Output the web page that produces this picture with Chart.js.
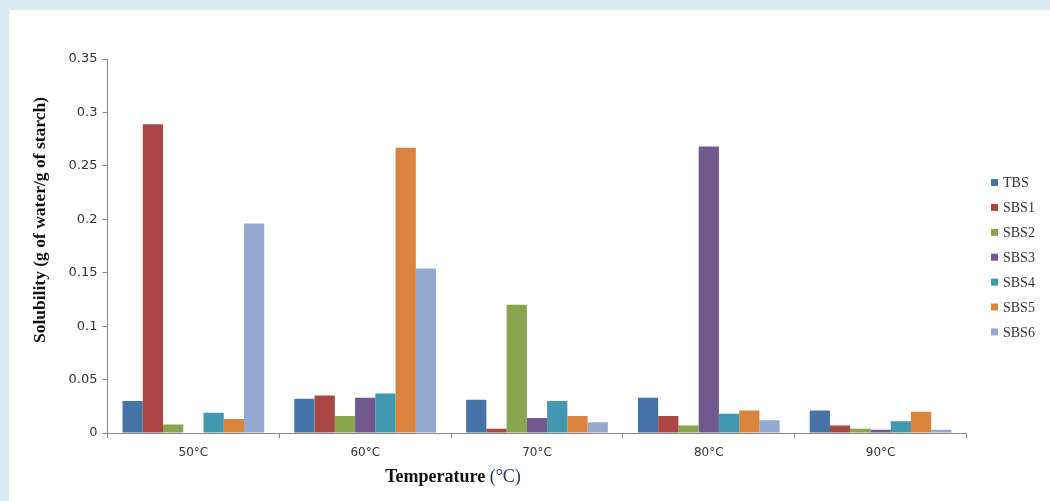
<!DOCTYPE html>
<html>
<head>
<meta charset="utf-8">
<script src="https://cdn.jsdelivr.net/npm/chart.js@4.4.1/dist/chart.umd.min.js"></script>
<style>
  html, body { margin: 0; padding: 0; background: #d9ebf2; }
  #wrap { position: absolute; left: 9px; top: 10px; width: 1041px; height: 491px; background: #fff; }
</style>
</head>
<body>
<div id="wrap"><canvas id="solChart" width="1041" height="491"></canvas></div>
<script>
// chart data
const temps = ["50°C", "60°C", "70°C", "80°C", "90°C"];
const yTicks = ["0", "0.05", "0.1", "0.15", "0.2", "0.25", "0.3", "0.35"];

const tbs  = [0.030, 0.032, 0.031, 0.033, 0.021];
const sbs1 = [0.289, 0.035, 0.004, 0.016, 0.007];
const sbs2 = [0.008, 0.016, 0.120, 0.007, 0.004];
const sbs3 = [0,     0.033, 0.014, 0.268, 0.003];
const sbs4 = [0.019, 0.037, 0.030, 0.018, 0.011];
const sbs5 = [0.013, 0.267, 0.016, 0.021, 0.020];
const sbs6 = [0.196, 0.154, 0.010, 0.012, 0.003];

const seriesNames = ["TBS", "SBS1", "SBS2", "SBS3", "SBS4", "SBS5", "SBS6"];
const seriesData = [tbs, sbs1, sbs2, sbs3, sbs4, sbs5, sbs6];
const colors = ["#4572a7", "#aa4643", "#89a54e", "#71588f", "#4198af", "#db843d", "#93a9cf"];

const axisGray = "#868686";

// titles + legend drawn by hand so they sit where the original puts them
const extras = {
    id: "extras",
    afterDraw(chart) {
        const ctx = chart.ctx;
        ctx.save();

        // y title
        ctx.translate(31, 210);
        ctx.rotate(-Math.PI / 2);
        ctx.font = "bold 17.5px 'Liberation Serif', 'Times New Roman', serif";
        ctx.fillStyle = "#111";
        ctx.textAlign = "center";
        ctx.textBaseline = "middle";
        ctx.fillText("Solubility (g of water/g of starch)", 0, 0);
        ctx.restore();

        // x title, bold word + plain unit
        ctx.save();
        ctx.textBaseline = "middle";
        ctx.textAlign = "left";
        const boldFont = "bold 18px 'Liberation Serif', 'Times New Roman', serif";
        const normFont = "18px 'Liberation Serif', 'Times New Roman', serif";
        ctx.font = boldFont;
        const w1 = ctx.measureText("Temperature ").width;
        ctx.font = normFont;
        const w2 = ctx.measureText("(°C)").width;
        let x0 = 444 - (w1 + w2) / 2;
        ctx.font = boldFont;
        ctx.fillStyle = "#111";
        ctx.fillText("Temperature ", x0, 467);
        ctx.font = normFont;
        ctx.fillStyle = "#1f3860";
        ctx.fillText("(°C)", x0 + w1, 467);
        ctx.restore();

        // legend
        ctx.save();
        ctx.font = "14px 'Liberation Serif', 'Times New Roman', serif";
        ctx.textBaseline = "middle";
        ctx.textAlign = "left";
        chart.data.datasets.forEach((ds, i) => {
            const y = 172.5 + i * 24.9;
            ctx.fillStyle = ds.backgroundColor;
            ctx.fillRect(982, y - 3.5, 7, 7);
            ctx.fillStyle = "#333";
            ctx.fillText(ds.label, 994, y + 1);
        });
        ctx.restore();
    }
};

const ctx = document.getElementById("solChart").getContext("2d");

new Chart(ctx, {
    type: "bar",
    data: {
        labels: temps,
        datasets: seriesNames.map((name, i) => ({
            label: name,
            data: seriesData[i],
            backgroundColor: colors[i],
            borderWidth: 0,
            barPercentage: 1.0,
            categoryPercentage: 0.825
        }))
    },
    options: {
        responsive: false,
        animation: false,
        layout: {
            padding: { left: 0, top: 49, right: 83.5, bottom: 0 }
        },
        plugins: {
            legend: { display: false },
            tooltip: { enabled: false }
        },
        scales: {
            x: {
                grid: {
                    drawOnChartArea: false,
                    color: axisGray,
                    tickLength: 5
                },
                border: { color: axisGray, width: 1 },
                ticks: {
                    color: "#333",
                    font: { family: "'DejaVu Sans', Verdana, sans-serif", size: 12 },
                    padding: 8,
                    maxRotation: 0
                },
                afterFit(scale) { scale.height = 68; }
            },
            y: {
                min: 0,
                max: 0.35,
                grid: {
                    drawOnChartArea: false,
                    color: axisGray,
                    tickLength: 5
                },
                border: { color: axisGray, width: 1 },
                ticks: {
                    stepSize: 0.05,
                    color: "#333",
                    font: { family: "'DejaVu Sans', Verdana, sans-serif", size: 13 },
                    padding: 5,
                    callback: (v, i) => yTicks[i]
                },
                afterFit(scale) { scale.width = 98.5; }
            }
        }
    },
    plugins: [extras]
});
</script>
</body>
</html>
